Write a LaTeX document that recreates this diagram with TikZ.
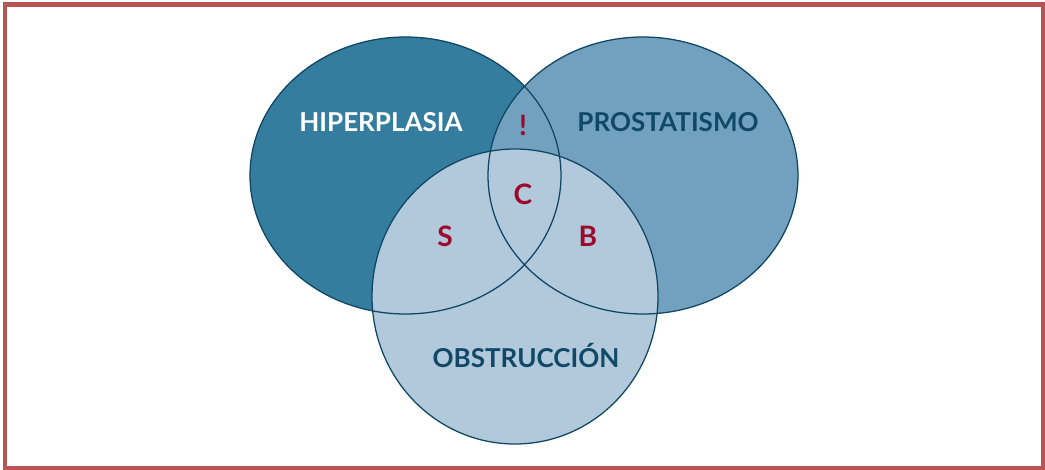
\documentclass[tikz,border=0pt]{standalone}
\usepackage{fontspec}
\setmainfont{Lato}
\usetikzlibrary{shapes.geometric, positioning}
\definecolor{framered}{RGB}{184,84,84}
\definecolor{darkteal}{RGB}{53,125,158}
\definecolor{midblue}{RGB}{114,161,191}
\definecolor{paleblue}{RGB}{177,201,219}
\definecolor{rimnavy}{RGB}{14,70,100}
\definecolor{lblnavy}{RGB}{16,72,104}
\definecolor{lblred}{RGB}{155,10,45}
\tikzset{
  setbox/.style={ellipse, inner sep=0pt, draw=none},
  rim/.style={draw=rimnavy, line width=0.9pt},
  setlbl/.style={font=\fontsize{18.5}{22}\selectfont\bfseries},
  zonelbl/.style={font=\fontsize{20}{22}\selectfont\bfseries, text=lblred}
}
\begin{document}
\begin{tikzpicture}[x=0.025cm, y=0.025cm]
  \useasboundingbox (0,0) rectangle (1045,469);
  \draw[framered, line width=3.2pt] (5,1) rectangle (1043,464.5);

  % the three sets
  \node[setbox, fill=darkteal, minimum width=7.775cm, minimum height=6.925cm]
        (hyp) at (405.5,293.5) {};
  \node[setbox, fill=midblue, minimum width=7.75cm, minimum height=6.925cm]
        (pro) at (643,293.5) {};
  \node[setbox, fill=paleblue, minimum width=7.15cm, minimum height=7.375cm]
        (obs) at (515,172.5) {};

  % outlines on top
  \draw[rim] (hyp.center) ellipse [x radius=155.5, y radius=138.5];
  \draw[rim] (pro.center) ellipse [x radius=155, y radius=138.5];
  \draw[rim] (obs.center) ellipse [x radius=143, y radius=147.5];

  \node[setlbl, text=white]   (hyplbl) at (381,347) {HIPERPLASIA};
  \node[setlbl, text=lblnavy] (prolbl) at (668,347) {PROSTATISMO};
  \node[setlbl, text=lblnavy] (obslbl) at (526,114) {OBSTRUCCIÓN};

  \node[zonelbl] (excl) at (523,344) {!};
  \node[zonelbl] (cent) at (523,275) {C};
  \node[zonelbl] (szone) at (445,233) {S};
  \node[zonelbl] (bzone) at (588,233) {B};
\end{tikzpicture}
\end{document}
